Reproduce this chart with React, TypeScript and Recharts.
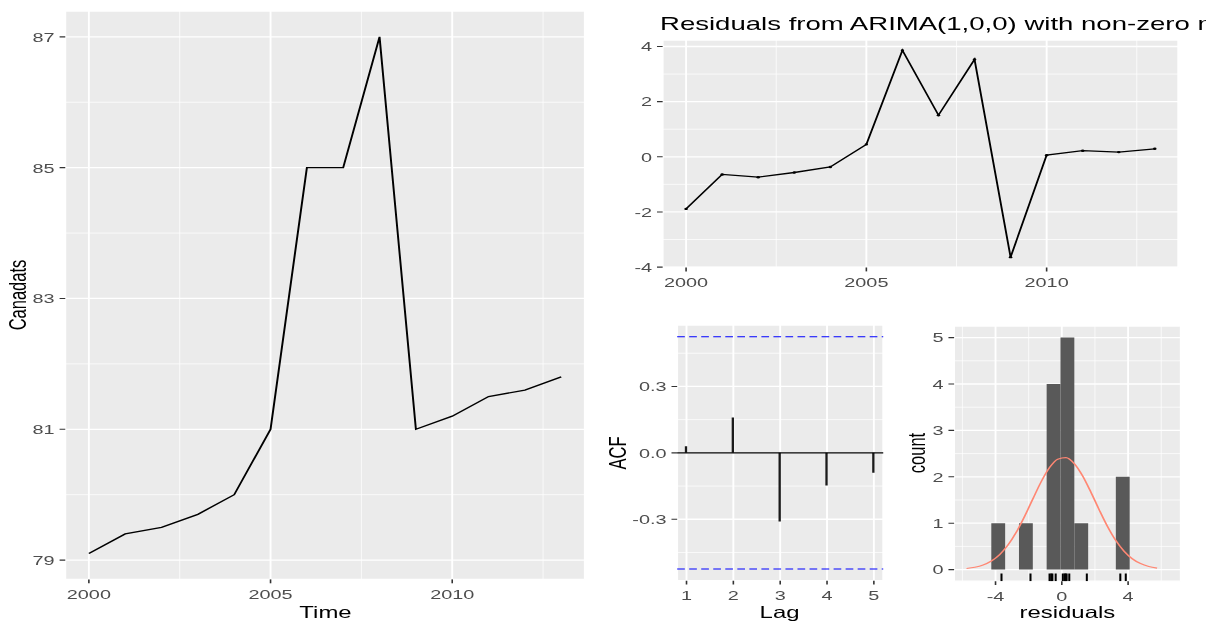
import React from 'react';
import {
  LineChart,
  ComposedChart,
  Line,
  Bar,
  Scatter,
  XAxis,
  YAxis,
  CartesianGrid,
  ReferenceLine,
  ReferenceArea,
} from 'recharts';

// the target screenshot is stretched sideways, so draw narrow and scale on x
const SX = 1.45;
const u = (v: number) => v / SX;

const FONT = '"Liberation Sans", Arial, Helvetica, sans-serif';
const TICK_FONT = 13.7;
const AXIS_FONT = 16.5;
const TITLE_FONT = 19.0;

// --- data -------------------------------------------------------------
const years = [2000, 2001, 2002, 2003, 2004, 2005, 2006, 2007, 2008, 2009, 2010, 2011, 2012, 2013];
const canadats = [79.1, 79.4, 79.5, 79.7, 80.0, 81.0, 85.0, 85.0, 87.0, 81.0, 81.2, 81.5, 81.6, 81.8];
const residuals = [-1.89, -0.64, -0.74, -0.57, -0.37, 0.45, 3.86, 1.51, 3.53, -3.64, 0.06, 0.22, 0.17, 0.29];

const yearTicks = [2000, 2005, 2010];
const yearMinor = [2002.5, 2007.5, 2012.5];
const canadaTicks = [79, 81, 83, 85, 87];
const canadaMinor = [80, 82, 84, 86];
const residTicks = [-4, -2, 0, 2, 4];
const residMinor = [-3, -1, 1, 3];

const lags = [1, 2, 3, 4, 5];
const acfValues = [0.03, 0.16, -0.31, -0.147, -0.09];
const acfBound = 0.525;
const acfTicks = [-0.3, 0, 0.3];
const acfMinor = [-0.45, -0.15, 0.15, 0.45];

const binLeft = [-4.255, -2.585, -0.915, -0.08, 0.755, 3.26];
const binRight = [-3.42, -1.75, -0.08, 0.755, 1.59, 4.095];
const binCount = [1, 1, 4, 5, 1, 2];
const normalX = [-5.75, -5.25, -4.75, -4.25, -3.75, -3.25, -2.75, -2.25, -1.75, -1.25, -0.75, -0.25,
  0.25, 0.75, 1.25, 1.75, 2.25, 2.75, 3.25, 3.75, 4.25, 4.75, 5.25, 5.75];
const normalY = [0.023, 0.05, 0.1, 0.186, 0.324, 0.529, 0.805, 1.144, 1.521, 1.891, 2.194, 2.38,
  2.413, 2.285, 2.023, 1.673, 1.293, 0.934, 0.63, 0.398, 0.234, 0.129, 0.066, 0.032];
const histTicks = [-4, 0, 4];
const histMinor = [-6, -2, 2, 6];
const countTicks = [0, 1, 2, 3, 4, 5];
const countMinor = [0.5, 1.5, 2.5, 3.5, 4.5];

const seriesData = years.map((year, i) => ({ year, canadats: canadats[i], resid: residuals[i] }));
const acfData = lags.map((lag, i) => ({ lag, acf: acfValues[i] }));
const normalData = normalX.map((x, i) => ({ x, y: normalY[i] }));
const rugData = residuals.map((x) => ({ x, y: -0.25 }));

// --- layout (plot boxes in screenshot pixels) ---------------------------
const YW = 40;
const XH = 30;
const PT = 2;
const PR = 2;
const MARGIN = { top: PT, right: PR, bottom: 0, left: 0 };

function frame(L: number, R: number, T: number, B: number) {
  return {
    left: u(L) - YW,
    top: T - PT,
    w: u(R - L) + YW + PR,
    h: B - T + PT + XH,
  };
}

const f1 = frame(65.7, 585.3, 10.9, 579.3);
const f2 = frame(662, 1177.6, 40.2, 267.7);
const f3 = frame(676.6, 882.7, 325, 580.7);
const f4 = frame(954, 1180.7, 325.7, 580.9);

const tickStyle = { fill: '#4D4D4D', fontSize: TICK_FONT, fontFamily: FONT };
const tickLine = { stroke: '#333333', strokeWidth: 1.1 };
const axisCommon = {
  tick: tickStyle,
  tickLine,
  axisLine: false,
  tickSize: 3.9,
  interval: 0 as const,
  allowDataOverflow: true,
};

const scaleOf = (axis: any) => (v: number) => {
  const s = axis?.scale;
  if (typeof s === 'function') return s(v);
  if (s && typeof s.map === 'function') return s.map(v);
  return 0;
};

function majorGrid() {
  return <CartesianGrid fill="#EBEBEB" fillOpacity={1} stroke="#FFFFFF" strokeWidth={1.3} />;
}

function minorGrid(xs: number[] | null, ys: number[] | null) {
  return (
    <CartesianGrid
      stroke="#FFFFFF"
      strokeWidth={0.6}
      vertical={!!xs}
      horizontal={!!ys}
      verticalCoordinatesGenerator={xs ? ({ xAxis }: any) => xs.map(scaleOf(xAxis)) : undefined}
      horizontalCoordinatesGenerator={ys ? ({ yAxis }: any) => ys.map(scaleOf(yAxis)) : undefined}
    />
  );
}

function Caption({ x, y, size, rotate = false, left = false, children }: any) {
  return (
    <div
      style={{
        position: 'absolute',
        left: u(x),
        top: y,
        fontSize: size,
        lineHeight: 1,
        fontFamily: FONT,
        color: '#000',
        whiteSpace: 'nowrap',
        transform: `translate(${left ? '0' : '-50%'}, -50%)${rotate ? ' rotate(-90deg)' : ''}`,
      }}
    >
      {children}
    </div>
  );
}

const RugTick = (props: any) => (
  <line x1={props.cx} x2={props.cx} y1={props.cy} y2={props.cy - 7.7} stroke="#000" strokeWidth={1.4} />
);

const box = (f: { left: number; top: number }) => ({ position: 'absolute' as const, left: f.left, top: f.top });

export default function App() {
  return (
    <div style={{ position: 'absolute', left: 0, top: 0, width: 1206, height: 625, overflow: 'hidden', background: '#fff' }}>
      <div style={{ position: 'absolute', left: 0, top: 0, width: 1206 / SX, height: 625, transform: `scaleX(${SX})`, transformOrigin: '0 0' }}>
        {/* Canadats series */}
        <div style={box(f1)}>
          <LineChart width={f1.w} height={f1.h} data={seriesData} margin={MARGIN}>
            {majorGrid()}
            {minorGrid(yearMinor, canadaMinor)}
            <XAxis {...axisCommon} dataKey="year" type="number" domain={[1999.35, 2013.65]} ticks={yearTicks} height={XH} tickMargin={6} />
            <YAxis {...axisCommon} type="number" domain={[78.705, 87.395]} ticks={canadaTicks} width={YW} tickMargin={3.4} />
            <Line type="linear" dataKey="canadats" stroke="#000" strokeWidth={1.35} dot={false} isAnimationActive={false} />
          </LineChart>
        </div>

        {/* residuals over time */}
        <div style={box(f2)}>
          <LineChart width={f2.w} height={f2.h} data={seriesData} margin={MARGIN}>
            {majorGrid()}
            {minorGrid(yearMinor, residMinor)}
            <XAxis {...axisCommon} dataKey="year" type="number" domain={[1999.35, 2013.65]} ticks={yearTicks} height={XH} tickMargin={6} />
            <YAxis {...axisCommon} type="number" domain={[-4.015, 4.235]} ticks={residTicks} width={YW} tickMargin={3.4} />
            <Line type="linear" dataKey="resid" stroke="#000" strokeWidth={1.3} dot={{ r: 1.2, fill: '#000', stroke: 'none' }} isAnimationActive={false} />
          </LineChart>
        </div>

        {/* ACF */}
        <div style={box(f3)}>
          <ComposedChart width={f3.w} height={f3.h} data={acfData} margin={MARGIN}>
            {majorGrid()}
            {minorGrid(null, acfMinor)}
            <XAxis {...axisCommon} dataKey="lag" type="number" domain={[0.8, 5.2]} ticks={lags} height={XH} tickMargin={6} />
            <YAxis {...axisCommon} type="number" domain={[-0.5775, 0.5775]} ticks={acfTicks} width={YW} tickMargin={3.4}
              tickFormatter={(v: number) => v.toFixed(1)} />
            <ReferenceLine y={acfBound} stroke="#0000FF" strokeWidth={1} strokeDasharray="5.3 3" />
            <ReferenceLine y={-acfBound} stroke="#0000FF" strokeWidth={1} strokeDasharray="5.3 3" />
            <ReferenceLine y={0} stroke="#000" strokeWidth={1.2} />
            <Bar dataKey="acf" fill="#1a1a1a" barSize={1.6} isAnimationActive={false} />
          </ComposedChart>
        </div>

        {/* histogram of residuals */}
        <div style={box(f4)}>
          <ComposedChart width={f4.w} height={f4.h} margin={MARGIN}>
            {majorGrid()}
            {minorGrid(histMinor, countMinor)}
            <XAxis {...axisCommon} dataKey="x" type="number" domain={[-6.5, 7.18]} ticks={histTicks} height={XH} tickMargin={6} />
            <YAxis {...axisCommon} dataKey="y" type="number" domain={[-0.25, 5.25]} ticks={countTicks} width={YW} tickMargin={3.4} />
            {binCount.map((c, i) => (
              <ReferenceArea key={i} x1={binLeft[i]} x2={binRight[i]} y1={0} y2={c} fill="#595959" fillOpacity={1} stroke="none" />
            ))}
            <Line data={normalData} type="monotone" dataKey="y" stroke="#ff8773" strokeWidth={1.2} dot={false} isAnimationActive={false} />
            <Scatter data={rugData} shape={RugTick} isAnimationActive={false} />
          </ComposedChart>
        </div>

        <Caption x={660} y={23} size={TITLE_FONT} left>
          Residuals from ARIMA(1,0,0) with non-zero mean
        </Caption>
        <Caption x={325.5} y={612.3} size={AXIS_FONT}>Time</Caption>
        <Caption x={18} y={295.1} size={AXIS_FONT} rotate>Canadats</Caption>
        <Caption x={779.6} y={612.3} size={AXIS_FONT}>Lag</Caption>
        <Caption x={618} y={452.9} size={AXIS_FONT} rotate>ACF</Caption>
        <Caption x={1067.4} y={612.3} size={AXIS_FONT}>residuals</Caption>
        <Caption x={916} y={453.3} size={AXIS_FONT} rotate>count</Caption>
      </div>
    </div>
  );
}
